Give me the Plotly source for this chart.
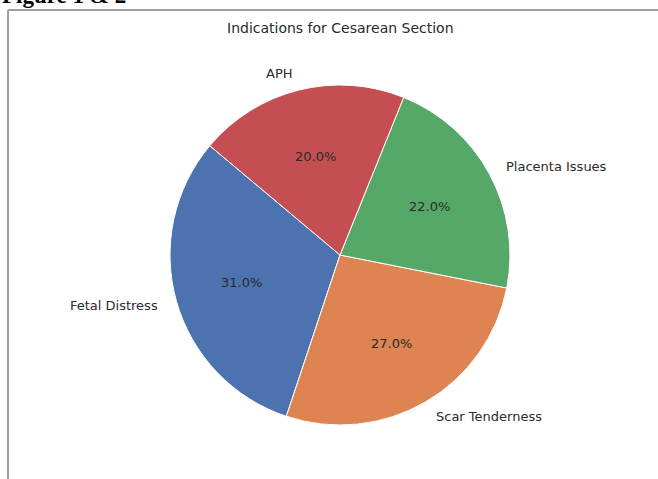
import math
import plotly.graph_objects as go

# Data
labels = ["Fetal Distress", "Scar Tenderness", "Placenta Issues", "APH"]
values = [31.0, 27.0, 22.0, 20.0]
colors = ["#4C72B0", "#DD8452", "#55A868", "#C44E52"]
title_text = "Indications for Cesarean Section"
start_angle = 140  # matplotlib-style start angle (degrees, counterclockwise from east)

W, H = 658, 479
cx, cy, R = 340, 255, 170  # pie centre and radius in pixels

total = sum(values)
# plotly (counterclockwise): rotation marks the END of the first slice, measured clockwise from 12 o'clock
first_end = start_angle + 360 * values[0] / total
rotation = 90 - first_end
while rotation < -360:
    rotation += 360

fig = go.Figure()
fig.add_trace(go.Pie(
    labels=labels, values=values, sort=False,
    direction="counterclockwise", rotation=rotation,
    marker=dict(colors=colors, line=dict(color="white", width=1)),
    textinfo="none", hoverinfo="label+percent", showlegend=False,
    domain=dict(x=[(cx - R) / W, (cx + R) / W], y=[1 - (cy + R) / H, 1 - (cy - R) / H]),
))

annotations = []
acc = 0.0
font_lbl = dict(family="DejaVu Sans", size=13, color="#2a2a2a")
for lab, v in zip(labels, values):
    mid = math.radians(start_angle + 360 * (acc + v / 2) / total)
    acc += v
    c, s = math.cos(mid), math.sin(mid)
    # outer label at 1.1 radius
    lx = (cx + 1.1 * R * c) / W
    ly = 1 - (cy - 1.1 * R * s) / H
    annotations.append(dict(x=lx, y=ly, xref="paper", yref="paper", text=lab,
                            showarrow=False, font=font_lbl,
                            xanchor="left" if c > 0 else "right", yanchor="middle"))
    # percentage at 0.6 radius
    px = (cx + 0.6 * R * c) / W
    py = 1 - (cy - 0.6 * R * s) / H
    annotations.append(dict(x=px, y=py, xref="paper", yref="paper",
                            text=f"{100 * v / total:.1f}%", showarrow=False,
                            font=font_lbl, xanchor="center", yanchor="middle"))

annotations.append(dict(x=340 / W, y=1 - 28 / H, xref="paper", yref="paper",
                        text=title_text, showarrow=False,
                        font=dict(family="DejaVu Sans", size=14, color="#2a2a2a"),
                        xanchor="center", yanchor="middle"))
annotations.append(dict(x=0, y=1 - 10 / H, xref="paper", yref="paper",
                        text="<b>Figure 1 & 2</b>", showarrow=False,
                        font=dict(family="Liberation Serif", size=23, color="#000000"),
                        xanchor="left", yanchor="bottom"))

fig.update_layout(
    width=W, height=H, margin=dict(l=0, r=0, t=0, b=0),
    paper_bgcolor="white", plot_bgcolor="white",
    annotations=annotations,
    shapes=[
        dict(type="line", xref="paper", yref="paper", x0=8 / W, x1=8 / W, y0=0, y1=1 - 10 / H,
             line=dict(color="#a0a0a0", width=2)),
        dict(type="line", xref="paper", yref="paper", x0=8 / W, x1=1, y0=1 - 10 / H, y1=1 - 10 / H,
             line=dict(color="#a0a0a0", width=2)),
    ],
)

fig.write_html("out.html", config={"displayModeBar": False},
               post_script="document.body.style.margin='0';document.body.style.overflow='hidden';")
